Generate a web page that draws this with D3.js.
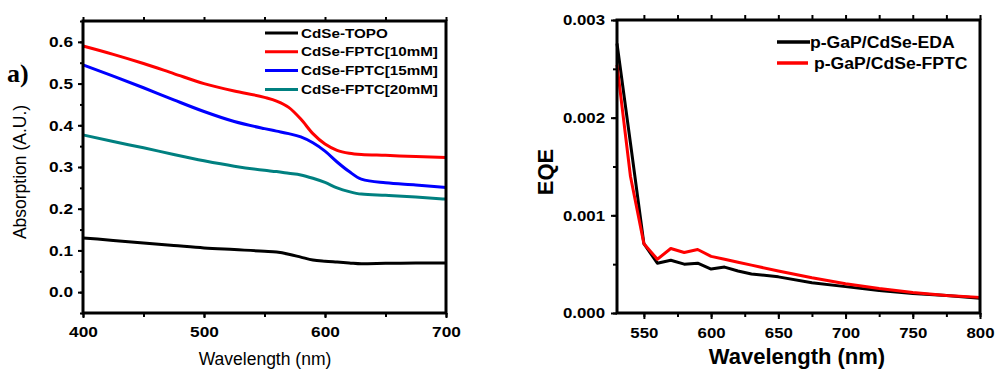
<!DOCTYPE html>
<html lang="en">
<head>
<meta charset="UTF-8">
<title>Absorption and EQE</title>
<script src="https://d3js.org/d3.v7.min.js"></script>
<style>
  body { margin: 0; background: #fff; }
  svg { display: block; }
  .tick text { font-family: "Liberation Sans", Arial, sans-serif; font-weight: bold; fill: #000; }
  .axis path, .axis line { stroke: #000; }
  .frame { fill: none; stroke: #000; stroke-width: 3; }
  .curve { fill: none; stroke-width: 3; stroke-linejoin: round; }
</style>
</head>
<body>
<svg width="995" height="370"></svg>
<script>
// ---- panel a) absorption ----
const absWl = [400, 425, 450, 475, 500, 525, 550, 560, 570, 580, 590, 600, 610, 620, 630, 650, 675, 700];
const absTopo   = [0.130, 0.124, 0.118, 0.112, 0.106, 0.102, 0.098, 0.096, 0.091, 0.084, 0.077, 0.074, 0.072, 0.070, 0.068, 0.069, 0.070, 0.070];
const absFptc10 = [0.590, 0.570, 0.548, 0.524, 0.500, 0.482, 0.467, 0.458, 0.443, 0.415, 0.380, 0.355, 0.340, 0.333, 0.330, 0.328, 0.325, 0.323];
const absFptc15 = [0.545, 0.518, 0.490, 0.461, 0.433, 0.409, 0.392, 0.386, 0.380, 0.372, 0.358, 0.338, 0.312, 0.289, 0.271, 0.262, 0.257, 0.251];
const absFptc20 = [0.377, 0.361, 0.346, 0.330, 0.315, 0.302, 0.292, 0.289, 0.285, 0.281, 0.273, 0.263, 0.250, 0.241, 0.235, 0.232, 0.228, 0.223];
const absNames  = ["CdSe-TOPO", "CdSe-FPTC[10mM]", "CdSe-FPTC[15mM]", "CdSe-FPTC[20mM]"];
const absColors = ["#000000", "#ff0000", "#0000ff", "#008080"];
const absXTicks = [400, 500, 600, 700];
const absYTicks = [0.0, 0.1, 0.2, 0.3, 0.4, 0.5, 0.6];

// ---- panel b) EQE ----
const eqeWl = [530, 540, 550, 560, 570, 580, 590, 600, 610, 620, 630, 650, 675, 700, 725, 750, 775, 800];
const eqeEda  = [0.00276, 0.00174, 0.00071, 0.00051, 0.00054, 0.00050, 0.00051, 0.00045, 0.00047, 0.00043, 0.00040, 0.00037, 0.00031, 0.00027, 0.00023, 0.00020, 0.00018, 0.00015];
const eqeFptc = [0.00254, 0.00140, 0.00071, 0.00055, 0.00066, 0.00062, 0.00065, 0.00058, 0.00055, 0.00052, 0.00049, 0.00043, 0.00036, 0.00030, 0.00025, 0.00021, 0.00018, 0.00016];
const eqeNames  = ["p-GaP/CdSe-EDA", "p-GaP/CdSe-FPTC"];
const eqeColors = ["#000000", "#ff0000"];
const eqeXTicks = [550, 600, 650, 700, 750, 800];
const eqeYTicks = [0.000, 0.001, 0.002, 0.003];

const svg = d3.select("svg");

// stretch text horizontally, the source picture is a bit wide
function stretch(sel, k) {
  sel.each(function() {
    const L = this.getComputedTextLength();
    this.setAttribute("textLength", L * k);
    this.setAttribute("lengthAdjust", "spacingAndGlyphs");
  });
}

function minorTicks(domain, step) {
  const out = [];
  for (let v = Math.ceil(domain[0] / step) * step; v <= domain[1] + 1e-12; v += step) out.push(+v.toFixed(6));
  return out;
}

// ================= left panel =================
const ax = d3.scaleLinear().domain([400, 700]).range([83, 446]);
const ay = d3.scaleLinear().domain([-0.05, 0.65]).range([313, 21]);

// minor ticks
svg.append("g").attr("class", "axis").attr("transform", "translate(0,313)")
  .call(d3.axisBottom(ax).tickValues(minorTicks([400, 700], 50)).tickSize(4).tickFormat(""))
  .call(g => g.selectAll("line").attr("stroke-width", 2));
svg.append("g").attr("class", "axis").attr("transform", "translate(0,21)")
  .call(d3.axisTop(ax).tickValues(minorTicks([400, 700], 50)).tickSize(4).tickFormat(""))
  .call(g => g.selectAll("line").attr("stroke-width", 2));
svg.append("g").attr("class", "axis").attr("transform", "translate(83,0)")
  .call(d3.axisLeft(ay).tickValues(minorTicks([-0.05, 0.65], 0.05)).tickSize(3).tickFormat(""))
  .call(g => g.selectAll("line").attr("stroke-width", 2));

const axB = svg.append("g").attr("class", "axis").attr("transform", "translate(0,313)")
  .call(d3.axisBottom(ax).tickValues(absXTicks).tickSize(5).tickPadding(8).tickFormat(d3.format("d")));
axB.selectAll("line").attr("stroke-width", 2);
axB.selectAll("text").style("font-size", "15px");
stretch(axB.selectAll("text"), 1.15);

const axL = svg.append("g").attr("class", "axis").attr("transform", "translate(83,0)")
  .call(d3.axisLeft(ay).tickValues(absYTicks).tickSize(5).tickPadding(5).tickFormat(d3.format(".1f")));
axL.selectAll("line").attr("stroke-width", 2);
axL.selectAll("text").style("font-size", "15px");
stretch(axL.selectAll("text"), 1.15);
svg.selectAll(".axis path.domain").remove();

const absSeries = [absTopo, absFptc10, absFptc15, absFptc20];
const absLine = d3.line().x((d, i) => ax(absWl[i])).y(d => ay(d)).curve(d3.curveMonotoneX);
svg.append("g").selectAll("path").data(absSeries).join("path")
  .attr("class", "curve")
  .attr("stroke", (d, i) => absColors[i])
  .attr("d", d => absLine(d));

svg.append("rect").attr("class", "frame")
  .attr("x", 83).attr("y", 21).attr("width", 363).attr("height", 292);

// legend
const absLeg = svg.append("g").selectAll("g").data(absNames).join("g")
  .attr("transform", (d, i) => `translate(265,${33 + i * 18.8})`);
absLeg.append("line").attr("x1", 0).attr("x2", 33).attr("y1", 0).attr("y2", 0)
  .attr("stroke", (d, i) => absColors[i]).attr("stroke-width", 3);
const absLegText = absLeg.append("text").attr("x", 36).attr("y", 4.5)
  .style("font-family", "'Liberation Sans', Arial, sans-serif").style("font-weight", "bold")
  .style("font-size", "13px").text(d => d);
stretch(absLegText, 1.17);

svg.append("text").attr("x", 7).attr("y", 82)
  .style("font-family", "'Liberation Serif', 'Times New Roman', serif").style("font-weight", "bold")
  .style("font-size", "26px").text("a)");

svg.append("text").attr("transform", "translate(26,172) rotate(-90)")
  .attr("text-anchor", "middle")
  .style("font-family", "'Liberation Sans', Arial, sans-serif").style("font-size", "17.5px")
  .text("Absorption (A.U.)");

svg.append("text").attr("x", 265).attr("y", 365).attr("text-anchor", "middle")
  .style("font-family", "'Liberation Sans', Arial, sans-serif").style("font-size", "17.5px")
  .text("Wavelength (nm)");

// ================= right panel =================
const bx = d3.scaleLinear().domain([530, 800]).range([617, 980]);
const by = d3.scaleLinear().domain([0, 0.003]).range([313, 20]);

svg.append("g").attr("class", "axis").attr("transform", "translate(0,313)")
  .call(d3.axisBottom(bx).tickValues(minorTicks([530, 800], 25)).tickSize(4).tickFormat(""))
  .call(g => g.selectAll("line").attr("stroke-width", 2));
svg.append("g").attr("class", "axis").attr("transform", "translate(0,20)")
  .call(d3.axisTop(bx).tickValues(minorTicks([530, 800], 25)).tickSize(5).tickFormat(""))
  .call(g => g.selectAll("line").attr("stroke-width", 2));
svg.append("g").attr("class", "axis").attr("transform", "translate(617,0)")
  .call(d3.axisLeft(by).tickValues(minorTicks([0, 0.003], 0.0005)).tickSize(4).tickFormat(""))
  .call(g => g.selectAll("line").attr("stroke-width", 2));

const bxB = svg.append("g").attr("class", "axis").attr("transform", "translate(0,313)")
  .call(d3.axisBottom(bx).tickValues(eqeXTicks).tickSize(6).tickPadding(8).tickFormat(d3.format("d")));
bxB.selectAll("line").attr("stroke-width", 2);
bxB.selectAll("text").style("font-size", "15px");
stretch(bxB.selectAll("text"), 1.12);

const byL = svg.append("g").attr("class", "axis").attr("transform", "translate(617,0)")
  .call(d3.axisLeft(by).tickValues(eqeYTicks).tickSize(6).tickPadding(6).tickFormat(d3.format(".3f")));
byL.selectAll("line").attr("stroke-width", 2);
byL.selectAll("text").style("font-size", "15px");
stretch(byL.selectAll("text"), 1.12);
svg.selectAll(".axis path.domain").remove();

const eqeSeries = [eqeEda, eqeFptc];
const eqeLine = d3.line().x((d, i) => bx(eqeWl[i])).y(d => by(d));
svg.append("g").selectAll("path").data(eqeSeries).join("path")
  .attr("class", "curve")
  .attr("stroke", (d, i) => eqeColors[i])
  .attr("d", d => eqeLine(d));

svg.append("rect").attr("class", "frame")
  .attr("x", 617).attr("y", 20).attr("width", 363).attr("height", 293);

const eqeLeg = svg.append("g").selectAll("g").data(eqeNames).join("g")
  .attr("transform", (d, i) => `translate(777,${42 + i * 21})`);
eqeLeg.append("line").attr("x1", 0).attr("x2", (d, i) => i ? 31 : 33).attr("y1", 0).attr("y2", 0)
  .attr("stroke", (d, i) => eqeColors[i]).attr("stroke-width", 3.5);
const eqeLegText = eqeLeg.append("text").attr("x", (d, i) => i ? 37 : 33).attr("y", 6)
  .style("font-family", "'Liberation Sans', Arial, sans-serif").style("font-weight", "bold")
  .style("font-size", "16px").text(d => d);
stretch(eqeLegText, 1.1);

svg.append("text").attr("transform", "translate(553,172) rotate(-90)")
  .attr("text-anchor", "middle")
  .style("font-family", "'Liberation Sans', Arial, sans-serif").style("font-weight", "bold")
  .style("font-size", "22px").text("EQE");

svg.append("text").attr("x", 797).attr("y", 364).attr("text-anchor", "middle")
  .style("font-family", "'Liberation Sans', Arial, sans-serif").style("font-weight", "bold")
  .style("font-size", "22px").text("Wavelength (nm)");
</script>
</body>
</html>
